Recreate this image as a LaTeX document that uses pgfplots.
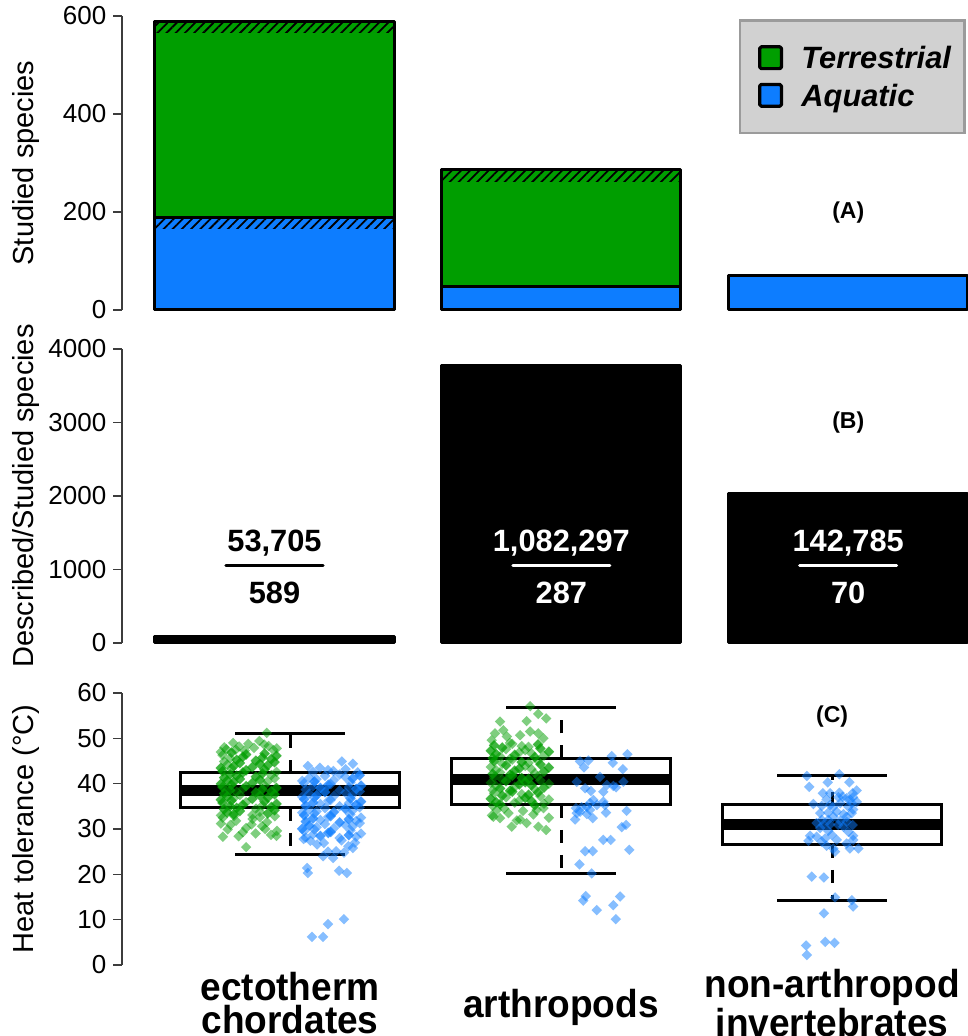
\documentclass[border=0pt]{standalone}
\usepackage{fontspec}
\setmainfont{Liberation Sans}
\newfontfamily\catfont{Liberation Sans}[FakeStretch=0.95]
\usepackage{pgfplots}
\usepackage{pgfplotstable}
\pgfplotsset{compat=1.18}
\usepgfplotslibrary{statistics}
\usetikzlibrary{patterns.meta}
\definecolor{terr}{RGB}{0,158,0}
\definecolor{aqua}{RGB}{13,125,255}
\definecolor{axgray}{RGB}{60,60,60}
\definecolor{leggray}{RGB}{209,209,209}
\definecolor{legborder}{RGB}{155,155,155}

\pgfplotstableread{
x y
0.7 589
1.9 287
}\panelAterr
\pgfplotstableread{
x y
0.7 188
1.9 47
3.1 70
}\panelAaqua
\pgfplotstableread{
x y
0.7 91.18
1.9 3771.07
3.1 2039.79
}\panelB

\pgfplotstableread{
x y
0.745 33.0
0.861 36.7
0.792 40.4
0.918 44.1
0.768 33.7
0.889 37.4
0.815 41.1
0.943 44.8
0.757 34.4
0.874 38.1
0.803 41.8
0.931 45.5
0.779 35.1
0.898 38.8
0.826 42.5
0.950 46.2
0.751 35.8
0.838 39.5
0.906 43.2
0.784 46.9
0.745 36.5
0.861 40.2
0.792 43.9
0.918 33.5
0.768 37.2
0.889 40.9
0.815 44.6
0.943 34.2
0.757 37.9
0.874 41.6
0.803 45.3
0.931 34.9
0.779 38.6
0.898 42.3
0.826 46.0
0.950 35.6
0.751 39.3
0.838 43.0
0.906 46.7
0.784 36.3
0.745 40.0
0.861 43.7
0.792 33.3
0.918 37.0
0.768 40.7
0.889 44.4
0.815 34.0
0.943 37.7
0.757 41.4
0.874 45.1
0.803 34.7
0.931 38.4
0.779 42.1
0.898 45.8
0.826 35.4
0.950 39.1
0.751 42.8
0.838 46.5
0.906 36.1
0.784 39.8
0.745 43.5
0.861 33.1
0.792 36.8
0.918 40.5
0.768 44.2
0.889 33.8
0.815 37.5
0.943 41.2
0.757 44.9
0.874 34.5
0.803 38.2
0.931 41.9
0.779 45.6
0.898 35.2
0.826 38.9
0.950 42.6
0.751 46.3
0.838 35.9
0.906 39.6
0.784 43.3
0.745 47.0
0.861 36.6
0.792 40.3
0.918 44.0
0.768 33.6
0.889 37.3
0.815 41.0
0.943 44.7
0.757 34.3
0.874 38.0
0.803 41.7
0.931 45.4
0.779 35.0
0.898 38.7
0.826 42.4
0.950 46.1
0.751 35.7
0.838 39.4
0.906 43.1
0.784 46.8
0.745 36.4
0.861 40.1
0.792 43.8
0.918 33.4
0.768 37.1
0.889 40.8
0.815 44.5
0.943 34.1
0.757 37.8
0.874 41.5
0.803 45.2
0.931 34.8
0.779 38.5
0.898 42.2
0.826 45.9
0.950 35.5
0.751 39.2
0.838 42.9
0.906 46.6
0.784 36.2
0.745 39.9
0.861 43.6
0.792 33.2
0.918 36.9
0.768 40.6
0.889 44.3
0.815 33.9
0.943 37.6
0.757 41.3
0.874 45.0
0.803 34.6
0.931 38.3
0.779 42.0
0.898 45.7
0.826 35.3
0.950 39.0
0.751 42.7
0.838 46.4
0.906 36.0
0.784 39.7
0.745 43.4
0.752 32.5
0.801 31.8
0.862 32.2
0.915 31.5
0.944 32.8
0.780 30.9
0.838 30.2
0.897 30.6
0.952 29.6
0.745 31.2
0.826 29.3
0.873 29.0
0.930 28.7
0.810 28.4
0.752 28.3
0.908 30.0
0.858 31.0
0.793 32.9
0.889 32.6
0.770 29.9
0.838 26.0
0.950 28.5
0.765 47.6
0.812 48.2
0.867 47.9
0.905 48.6
0.939 47.4
0.790 49.0
0.846 48.8
0.887 49.4
0.921 48.3
0.757 48.0
0.914 51.2
0.833 47.3
0.951 47.8
0.800 47.5
}\gonegreen

\pgfplotstableread{
x y
1.183 28.0
1.058 31.7
1.244 35.4
1.112 39.1
1.217 28.7
1.085 32.4
1.262 36.1
1.141 39.8
1.150 29.4
1.052 33.1
1.223 36.8
1.090 40.5
1.045 30.1
1.162 33.8
1.098 37.5
1.231 41.2
1.071 30.8
1.204 34.5
1.129 38.2
1.257 41.9
1.183 31.5
1.058 35.2
1.244 38.9
1.112 28.5
1.217 32.2
1.085 35.9
1.262 39.6
1.141 29.2
1.150 32.9
1.052 36.6
1.223 40.3
1.090 29.9
1.045 33.6
1.162 37.3
1.098 41.0
1.231 30.6
1.071 34.3
1.204 38.0
1.129 41.7
1.257 31.3
1.183 35.0
1.058 38.7
1.244 28.3
1.112 32.0
1.217 35.7
1.085 39.4
1.262 29.0
1.141 32.7
1.150 36.4
1.052 40.1
1.223 29.7
1.090 33.4
1.045 37.1
1.162 40.8
1.098 30.4
1.231 34.1
1.071 37.8
1.204 41.5
1.129 31.1
1.257 34.8
1.183 38.5
1.058 28.1
1.244 31.8
1.112 35.5
1.217 39.2
1.085 28.8
1.262 32.5
1.141 36.2
1.150 39.9
1.052 29.5
1.223 33.2
1.090 36.9
1.045 40.6
1.162 30.2
1.098 33.9
1.231 37.6
1.071 41.3
1.204 30.9
1.129 34.6
1.257 38.3
1.183 42.0
1.058 31.6
1.244 35.3
1.112 39.0
1.217 28.6
1.085 32.3
1.262 36.0
1.141 39.7
1.150 29.3
1.052 33.0
1.223 36.7
1.090 40.4
1.045 30.0
1.162 33.7
1.098 37.4
1.231 41.1
1.071 30.7
1.204 34.4
1.129 38.1
1.257 41.8
1.183 31.4
1.058 35.1
1.244 38.8
1.112 28.4
1.217 32.1
1.085 35.8
1.262 39.5
1.141 29.1
1.150 32.8
1.052 36.5
1.066 43.9
1.191 44.9
1.232 44.4
1.110 43.5
1.160 42.8
1.250 42.5
1.085 42.6
1.205 43.2
1.140 43.0
1.232 25.8
1.159 23.6
1.199 24.8
1.063 21.4
1.066 20.3
1.181 20.8
1.210 20.3
1.100 26.6
1.240 27.0
1.170 25.1
1.075 27.4
1.125 26.9
1.215 26.2
1.050 27.8
1.190 27.5
1.122 24.0
1.140 25.0
1.199 10.1
1.140 9.0
1.081 6.2
1.122 6.2
}\goneblue

\pgfplotstableread{
x y
1.812 38.5
1.748 42.2
1.903 45.9
1.775 35.5
1.937 39.2
1.829 42.9
1.760 46.6
1.891 36.2
1.846 39.9
1.955 43.6
1.741 47.3
1.868 36.9
1.797 40.6
1.924 44.3
1.783 48.0
1.880 37.6
1.855 41.3
1.753 45.0
1.915 48.7
1.820 38.3
1.812 42.0
1.748 45.7
1.903 35.3
1.775 39.0
1.937 42.7
1.829 46.4
1.760 36.0
1.891 39.7
1.846 43.4
1.955 47.1
1.741 36.7
1.868 40.4
1.797 44.1
1.924 47.8
1.783 37.4
1.880 41.1
1.855 44.8
1.753 48.5
1.915 38.1
1.820 41.8
1.812 45.5
1.748 35.1
1.903 38.8
1.775 42.5
1.937 46.2
1.829 35.8
1.760 39.5
1.891 43.2
1.846 46.9
1.955 36.5
1.741 40.2
1.868 43.9
1.797 47.6
1.924 37.2
1.783 40.9
1.880 44.6
1.855 48.3
1.753 37.9
1.915 41.6
1.820 45.3
1.812 49.0
1.748 38.6
1.903 42.3
1.775 46.0
1.937 35.6
1.829 39.3
1.760 43.0
1.891 46.7
1.846 36.3
1.955 40.0
1.741 43.7
1.868 47.4
1.797 37.0
1.924 40.7
1.783 44.4
1.880 48.1
1.855 37.7
1.753 41.4
1.915 45.1
1.820 48.8
1.812 38.4
1.748 42.1
1.903 45.8
1.775 35.4
1.937 39.1
1.829 42.8
1.760 46.5
1.891 36.1
1.846 39.8
1.955 43.5
1.741 47.2
1.868 36.8
1.797 40.5
1.924 44.2
1.783 47.9
1.880 37.5
1.855 41.2
1.753 44.9
1.915 48.6
1.820 38.2
1.812 41.9
1.748 45.6
1.903 35.2
1.775 38.9
1.937 42.6
1.829 46.3
1.760 35.9
1.891 39.6
1.846 43.3
1.955 47.0
1.741 36.6
1.868 40.3
1.797 44.0
1.924 47.7
1.783 37.3
1.880 41.0
1.855 44.7
1.753 48.4
1.915 38.0
1.820 41.7
1.886 57.1
1.916 55.4
1.945 54.4
1.775 53.7
1.873 53.8
1.756 51.1
1.787 51.8
1.849 50.7
1.886 51.5
1.916 51.1
1.935 50.0
1.744 49.6
1.800 50.4
1.750 32.7
1.818 30.5
1.916 30.5
1.945 29.8
1.873 31.3
1.775 32.4
1.849 32.1
1.806 33.5
1.898 33.2
1.763 34.2
1.935 34.6
1.837 31.9
1.910 34.2
1.745 33.0
1.955 32.5
1.790 34.5
1.860 34.0
}\gtwogreen

\pgfplotstableread{
x y
2.070 44.9
2.101 45.1
2.187 46.1
2.245 46.5
2.191 44.6
2.085 43.6
2.228 43.2
2.058 40.4
2.144 41.5
2.193 39.5
2.230 40.4
2.089 39.0
2.110 38.4
2.169 39.7
2.156 38.2
2.203 39.2
2.119 36.4
2.156 36.0
2.055 34.6
2.076 34.8
2.095 34.9
2.107 34.2
2.132 35.3
2.162 35.3
2.070 33.8
2.095 33.3
2.117 32.4
2.052 32.1
2.166 33.6
2.242 34.0
2.224 30.4
2.240 30.9
2.156 27.6
2.183 27.6
2.089 25.1
2.117 25.1
2.252 25.4
2.068 22.2
2.113 20.2
2.091 15.2
2.082 14.2
2.218 15.1
2.132 12.1
2.193 13.2
2.202 10.1
2.107 35.7
2.058 33.5
}\gtwoblue

\pgfplotstableread{
x y
2.907 41.7
3.027 42.1
2.916 39.3
2.984 40.3
3.064 40.3
3.091 38.5
3.076 37.9
2.966 37.9
2.993 37.9
3.027 38.0
3.039 37.1
3.054 36.8
3.078 37.0
2.980 36.5
3.091 36.0
3.073 35.7
2.931 35.5
2.962 35.1
2.993 35.3
3.060 34.9
3.078 34.3
2.986 33.6
3.017 33.8
3.073 33.5
3.042 33.3
3.005 32.7
2.962 32.0
3.030 31.8
3.054 31.6
2.968 30.9
2.993 31.0
3.023 30.9
3.076 30.9
2.956 30.2
2.986 29.6
3.060 29.4
2.919 28.5
2.943 28.3
2.974 27.9
3.078 28.5
2.913 27.4
2.962 27.2
2.980 26.3
3.005 25.7
3.066 25.7
3.097 25.7
3.011 25.0
3.054 26.8
3.078 27.6
2.925 19.5
2.970 19.3
3.011 14.9
3.073 14.3
3.078 12.9
2.970 11.4
2.904 4.3
2.975 5.1
3.009 4.9
2.907 2.2
3.005 34.9
3.030 35.7
2.943 31.3
3.042 30.5
2.999 28.7
3.017 27.6
3.054 32.7
2.956 33.5
3.023 37.0
2.986 32.0
3.066 36.5
}\gthreeblue

\pgfplotsset{
  panel/.style={
    scale only axis, width=422.5pt, clip=false, anchor=south west,
    axis y line=left, axis x line=bottom,
    axis line style={-, draw=axgray, line width=0.7pt},
    x axis line style={draw=none}, xtick style={draw=none},
    tick align=outside, major tick length=4.35pt,
    ytick style={draw=axgray, line width=0.7pt},
    /pgf/number format/assume math mode=true,
    /pgf/number format/1000 sep={},
    yticklabel style={font=\fontsize{13pt}{13pt}\selectfont},
    ylabel style={font=\fontsize{14.5pt}{14.5pt}\selectfont, at={(rel axis cs:-0.1136,0.5)}, anchor=center},
  },
  bars/.style={ybar, bar width=1, bar shift=0pt, line width=1.5pt, line join=round, draw=black},
  sqlegend/.style={legend image code/.code={%
    \path (0pt,0pt);
    \draw[##1, draw=black, line width=1.6pt, rounded corners=0.8pt, line join=round] (2.1pt,-5.45pt) rectangle (13pt,5.45pt);}},
  hatch/.style={forget plot, draw=none, pattern={Lines[angle=45,distance=3.25pt,line width=0.9pt]}},
  pts/.style={only marks, mark=square*, mark size=1.85pt},
}

\begin{document}
\begin{tikzpicture}
\useasboundingbox (0pt,0pt) rectangle (483.5pt,518pt);

% ---------- Panel A ----------
\begin{axis}[panel, at={(61pt,363pt)}, height=147pt,
  xmin=0.062, xmax=3.597, ymin=0, ymax=600, ytick={0,200,400,600}, xtick=\empty,
  ylabel={Studied species},
  legend style={at={(0.730,0.990)}, anchor=north west, fill=leggray, draw=legborder, line width=1.3pt,
    font=\fontsize{15.4pt}{15.4pt}\selectfont\bfseries\itshape,
    inner xsep=6.9pt, inner ysep=12.5pt, row sep=6.3pt, column sep=9.2pt,
    nodes={inner sep=0pt, text height=11.2pt, text depth=0pt}},
  legend cell align=left]
\addplot[bars, fill=terr, sqlegend] table {\panelAterr};
\addlegendentry{Terrestrial}
\addplot[bars, fill=aqua, sqlegend] table {\panelAaqua};
\addlegendentry{Aquatic}
\addplot[hatch] coordinates {(0.2,566) (1.2,566) (1.2,589) (0.2,589)} -- cycle;
\addplot[hatch] coordinates {(0.2,166) (1.2,166) (1.2,188) (0.2,188)} -- cycle;
\addplot[hatch] coordinates {(1.4,263) (2.4,263) (2.4,287) (1.4,287)} -- cycle;
\node[font=\fontsize{11.5pt}{11.5pt}\selectfont\bfseries] at (axis cs:3.1,198) {(A)};
\end{axis}

% ---------- Panel B ----------
\begin{axis}[panel, at={(61pt,196.5pt)}, height=147pt,
  xmin=0.062, xmax=3.597, ymin=0, ymax=4000, ytick={0,1000,2000,3000,4000}, xtick=\empty,
  ylabel={Described/Studied species}]
\addplot[bars, fill=black] table {\panelB};
\draw[line width=1.5pt, line cap=round] (axis cs:0.497,1061) -- (axis cs:0.903,1061);
\draw[white, line width=1.5pt, line cap=round] (axis cs:1.697,1061) -- (axis cs:2.103,1061);
\draw[white, line width=1.5pt, line cap=round] (axis cs:2.897,1061) -- (axis cs:3.303,1061);
\begin{scope}[every node/.style={font=\fontsize{15.4pt}{15.4pt}\selectfont\bfseries, anchor=base}]
\node at (axis cs:0.7,1239) {53,705};
\node at (axis cs:0.7,540) {589};
\node[text=white] at (axis cs:1.9,1239) {1,082,297};
\node[text=white] at (axis cs:1.9,540) {287};
\node[text=white] at (axis cs:3.1,1239) {142,785};
\node[text=white] at (axis cs:3.1,540) {70};
\end{scope}
\node[font=\fontsize{11.5pt}{11.5pt}\selectfont\bfseries] at (axis cs:3.1,2993) {(B)};
\end{axis}

% ---------- Panel C ----------
\begin{axis}[panel, at={(61pt,35.5pt)}, height=136pt,
  xmin=0.38, xmax=3.498, ymin=0, ymax=60, ytick={0,10,...,60},
  ylabel={Heat tolerance (°C)},
  xtick={1,2,3},
  xticklabels={{ectotherm\\chordates},{arthropods},{non-arthropod\\invertebrates}},
  xticklabel style={anchor=center, align=center, text depth=0pt, inner sep=0pt, yshift=-14.6pt,
    font=\catfont\bfseries\fontsize{19.5pt}{16.3pt}\selectfont},
  boxplot/draw direction=y,
  boxplot/every box/.style={fill=white},
  boxplot/every median/.style={line width=5.5pt},
  boxplot/draw/lower whisker/.code={%
    \draw[line width=1.5pt, dash pattern=on 6.5pt off 6pt]
      (boxplot cs:\pgfplotsboxplotvalue{lower quartile}) -- (boxplot cs:\pgfplotsboxplotvalue{lower whisker});
    \draw[line width=1.5pt, solid]
      (boxplot whisker cs:\pgfplotsboxplotvalue{lower whisker},0) -- (boxplot whisker cs:\pgfplotsboxplotvalue{lower whisker},1);
  },
  boxplot/draw/upper whisker/.code={%
    \draw[line width=1.5pt, dash pattern=on 6.5pt off 6pt]
      (boxplot cs:\pgfplotsboxplotvalue{upper quartile}) -- (boxplot cs:\pgfplotsboxplotvalue{upper whisker});
    \draw[line width=1.5pt, solid]
      (boxplot whisker cs:\pgfplotsboxplotvalue{upper whisker},0) -- (boxplot whisker cs:\pgfplotsboxplotvalue{upper whisker},1);
  }]
\addplot[draw=black, line width=1.5pt, boxplot prepared={draw position=1, lower whisker=24.4, lower quartile=34.7,
  median=38.6, upper quartile=42.4, upper whisker=51.1, box extend=0.81, whisker extend=0.405}] coordinates {};
\addplot[draw=black, line width=1.5pt, boxplot prepared={draw position=2, lower whisker=20.1, lower quartile=35.3,
  median=41.0, upper quartile=45.6, upper whisker=56.8, box extend=0.81, whisker extend=0.405}] coordinates {};
\addplot[draw=black, line width=1.5pt, boxplot prepared={draw position=3, lower whisker=14.2, lower quartile=26.5,
  median=30.9, upper quartile=35.3, upper whisker=41.8, box extend=0.81, whisker extend=0.405}] coordinates {};
\addplot[pts, mark options={rotate=45, fill=terr, draw opacity=0, fill opacity=0.5}] table {\gonegreen};
\addplot[pts, mark options={rotate=45, fill=aqua, draw opacity=0, fill opacity=0.5}] table {\goneblue};
\addplot[pts, mark options={rotate=45, fill=terr, draw opacity=0, fill opacity=0.5}] table {\gtwogreen};
\addplot[pts, mark options={rotate=45, fill=aqua, draw opacity=0, fill opacity=0.5}] table {\gtwoblue};
\addplot[pts, mark options={rotate=45, fill=aqua, draw opacity=0, fill opacity=0.5}] table {\gthreeblue};
\node[font=\fontsize{11.5pt}{11.5pt}\selectfont\bfseries] at (axis cs:3.0,54.7) {(C)};
\end{axis}
\end{tikzpicture}
\end{document}
